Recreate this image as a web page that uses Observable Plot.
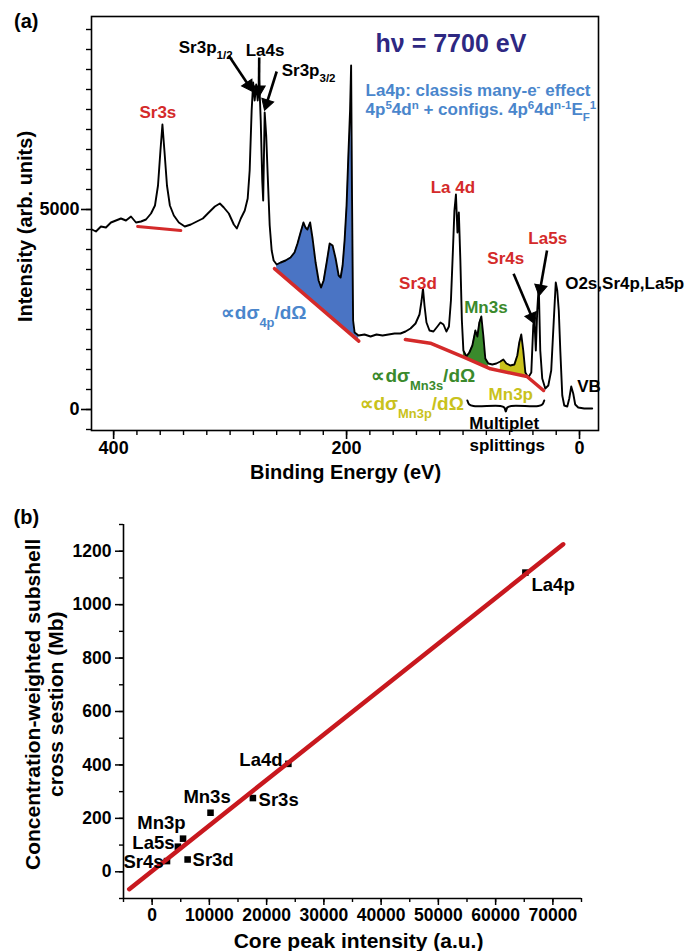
<!DOCTYPE html>
<html><head><meta charset="utf-8">
<script src="https://cdn.jsdelivr.net/npm/d3@7"></script>
<script src="https://cdn.jsdelivr.net/npm/@observablehq/plot@0.6"></script>
<style>
html,body{margin:0;padding:0;background:#fff;}
#chart{width:688px;height:951px;overflow:hidden;}
#chart svg{display:block;}
</style></head><body><div id="chart"></div>
<script>
const FONT = "Arial, 'Liberation Sans', Helvetica, sans-serif";

// ---------- Panel (a): XPS survey spectrum ----------
const bindingEnergy = [418.6,415.2,410.9,406.6,402.3,398.0,393.7,389.4,385.1,380.8,376.5,372.2,367.9,364.5,361.9,359.8,358.1,356.4,354.2,351.7,348.3,344.0,338.9,333.7,328.6,323.4,318.3,313.1,308.8,305.4,301.1,296.8,294.2,290.8,287.4,284.9,283.2,281.5,280.2,278.9,277.6,276.3,275.0,273.7,272.4,271.6,270.3,269.0,267.7,266.0,264.3,262.6,260.0,256.6,252.4,248.1,244.7,242.1,239.5,237.0,235.3,233.6,231.3,229.2,226.6,224.0,221.9,219.7,217.1,214.5,212.0,209.4,206.8,205.1,203.4,201.7,200.0,198.3,197.0,196.1,195.3,194.4,193.1,189.7,184.6,179.4,174.3,169.1,164.0,158.8,153.7,149.4,145.1,140.8,137.4,135.6,134.4,133.1,131.4,128.8,125.4,122.0,119.4,116.8,114.3,112.1,110.4,108.7,107.4,106.1,104.8,103.6,102.3,101.0,99.7,97.1,94.6,92.0,89.4,87.7,86.0,84.3,82.6,80.9,78.3,74.9,71.4,68.0,65.4,62.8,59.4,55.9,53.4,51.7,50.0,48.3,46.5,44.0,41.4,39.7,38.8,37.5,36.3,35.0,33.7,32.0,29.4,26.8,24.3,22.1,20.4,19.1,17.8,16.5,14.8,13.1,10.5,8.8,7.1,5.4,3.7,1.1,-4.0,-10.9];
const intensity = [4500,4450,4575,4550,4675,4725,4775,4725,4825,4675,4700,4750,4900,5100,5600,6475,7125,6475,5600,5100,4850,4675,4575,4625,4700,4775,4925,5075,5150,5050,4900,4625,4525,4775,4975,5275,5975,7475,8175,7725,8125,7725,8225,7225,5725,5225,7425,6850,5850,4600,3975,3725,3625,3675,3725,3800,3925,4150,4425,4675,4550,4500,4675,4275,3675,3225,3050,3225,3675,4150,4100,3775,3350,3300,3600,4225,5100,6475,7475,8600,5225,2225,1925,1850,1875,1825,1875,1850,1875,1900,1900,1950,2025,2150,2375,2725,3025,2600,2175,1975,1950,2075,2175,2125,1950,2075,2725,3975,4975,5375,4425,4925,3725,2225,1475,1325,1425,1600,1975,1825,2175,2325,1850,1275,1150,1125,1150,1200,1250,1150,1100,1125,1350,1675,1875,1475,925,800,925,2100,2275,1475,2475,3100,1475,775,525,600,975,2225,3175,2975,2475,1475,350,100,75,275,575,400,125,50,25,25];

// background (baseline) segments
const sr3sBaseBE = [379.4, 342.3], sr3sBaseI = [4575, 4475];
const la4pBaseBE = [261.9, 189.5], la4pBaseI = [3520, 1710];
const mnBaseBE = [149.5, 128.1, 99.4, 76.5, 45.1, 30.9], mnBaseI = [1750, 1658, 1308, 1018, 825, 475];
const la4pFillMax = 7200;
const mn3sRange = [76.5, 99.7], mn3pRange = [45.1, 70.8];

// axis ticks (a)
const xTicksA = [400, 200, 0];
const xMinorA = d3.range(0, 401, 20);
const yTicksA = [0, 5000];
const yMinorA = d3.range(-500, 9801, 500);

// annotation anchors (data units: binding energy, intensity)
const redLabels = [
  {t: "Sr3s", x: 362.0, y: 7425}, {t: "La 4d", x: 108.7, y: 5550}, {t: "Sr3d", x: 138.7, y: 3150},
  {t: "Sr4s", x: 63.3, y: 3775}, {t: "La5s", x: 27.3, y: 4275}];
const blackLabelsStart = [
  {t: "Sr3p_{1/2}", x: 344.1, y: 9050}, {t: "La4s", x: 286.6, y: 8975}, {t: "Sr3p_{3/2}", x: 255.7, y: 8475},
  {t: "O2s,Sr4p,La5p", x: 12.3, y: 3150}, {t: "VB", x: 2.0, y: 575}];
const blackLabelsMid = [{t: "Multiplet", x: 64.6, y: -350}, {t: "splittings", x: 62.0, y: -900}];
const peakArrows = [
  {x1: 301.2, y1: 8850, x2: 284.0, y2: 8100},
  {x1: 275.0, y1: 8800, x2: 275.2, y2: 8000},
  {x1: 260.0, y1: 8450, x2: 268.6, y2: 7650},
  {x1: 56.6, y1: 3393, x2: 40.8, y2: 2308},
  {x1: 27.9, y1: 3975, x2: 33.7, y2: 3018}];
const braceBE = [96.3, 94.6, 91.1, 68.0, 64.6, 63.3, 62.0, 58.6, 35.4, 32.0, 30.3];
const braceI = [225, 125, 88, 88, 50, -50, 50, 88, 88, 125, 225];

const spectrum = bindingEnergy.map((be, i) => ({be, I: intensity[i]}));
const pts = (xs, ys) => xs.map((x, i) => ({be: x, I: ys[i]}));
const la4pBase = d3.scaleLinear().domain(la4pBaseBE).range(la4pBaseI).clamp(true);
const mnBase = d3.scaleLinear().domain(mnBaseBE).range(mnBaseI).clamp(true);
const inRange = (lo, hi) => spectrum.filter(d => d.be >= lo && d.be <= hi);

const RED = "#d42a2a", BLUE = "#4a86cc", GREEN = "#3a8a2c", YELLOW = "#c9c21c";

// plot geometry (a) and arrow head orientation (screen space)
const A = {width: 688, height: 490, mt: 16, mb: 60, ml: 91, mr: 90, xd: [419, -16.3], yd: [-525, 9825]};
const kx = (A.width - A.ml - A.mr) / (A.xd[1] - A.xd[0]);
const ky = -(A.height - A.mt - A.mb) / (A.yd[1] - A.yd[0]);
const arrowHeads = peakArrows.map(a => {
  const dx = (a.x2 - a.x1) * kx, dy = (a.y2 - a.y1) * ky;
  return {x: a.x2, y: a.y2, angle: Math.atan2(dx, -dy) * 180 / Math.PI};
});

const plotA = Plot.plot({
  width: A.width, height: A.height,
  marginTop: A.mt, marginBottom: A.mb, marginLeft: A.ml, marginRight: A.mr,
  x: {domain: A.xd},
  y: {domain: A.yd},
  style: {fontFamily: FONT, fontWeight: "bold", color: "black", background: "white", overflow: "visible"},
  marks: [
    Plot.areaY(inRange(la4pBaseBE[1], la4pBaseBE[0]), {x: "be", y1: d => la4pBase(d.be), y2: d => Math.min(d.I, la4pFillMax), fill: "#4a74c4"}),
    Plot.areaY(inRange(...mn3sRange), {x: "be", y1: d => mnBase(d.be), y2: "I", fill: GREEN}),
    Plot.areaY(inRange(...mn3pRange), {x: "be", y1: d => mnBase(d.be), y2: "I", fill: YELLOW}),
    Plot.line(spectrum, {x: "be", y: "I", stroke: "black", strokeWidth: 1.9}),
    Plot.line(pts(sr3sBaseBE, sr3sBaseI), {x: "be", y: "I", stroke: RED, strokeWidth: 3}),
    Plot.line(pts(la4pBaseBE, la4pBaseI), {x: "be", y: "I", stroke: RED, strokeWidth: 3.5}),
    Plot.line(pts(mnBaseBE, mnBaseI), {x: "be", y: "I", stroke: RED, strokeWidth: 3.5}),
    Plot.frame({strokeWidth: 1.6}),
    Plot.axisY({ticks: yTicksA, tickSize: 10, tickPadding: 2, fontSize: 18, strokeWidth: 1.6, tickFormat: d3.format("d"), label: null}),
    Plot.axisY({ticks: yMinorA, tickSize: 5, strokeWidth: 1.4, tickFormat: () => "", label: null}),
    Plot.axisX({ticks: xTicksA, tickSize: 9, tickPadding: 2, fontSize: 18, strokeWidth: 1.6, tickFormat: d3.format("d"), label: null}),
    Plot.axisX({ticks: xMinorA, tickSize: 5, strokeWidth: 1.4, tickFormat: () => "", label: null}),
    Plot.link(peakArrows, {x1: "x1", y1: "y1", x2: "x2", y2: "y2", stroke: "black", strokeWidth: 2.6}),
    Plot.dot(arrowHeads, {x: "x", y: "y", symbol: "triangle", r: 4.6, rotate: "angle", fill: "black", stroke: "black", strokeWidth: 1}),
    Plot.line(pts(braceBE, braceI), {x: "be", y: "I", stroke: "black", strokeWidth: 2, curve: "catmull-rom"}),
    Plot.text(redLabels, {x: "x", y: "y", text: "t", fill: RED, fontSize: 17, textAnchor: "middle"}),
    Plot.text(blackLabelsStart, {x: "x", y: "y", text: "t", fill: "black", fontSize: 17, textAnchor: "start"}),
    Plot.text(blackLabelsMid, {x: "x", y: "y", text: "t", fill: "black", fontSize: 17, textAnchor: "middle"}),
    Plot.text([{t: "Mn3s", x: 80.4, y: 2550}], {x: "x", y: "y", text: "t", fill: GREEN, fontSize: 17, textAnchor: "middle"}),
    Plot.text([{t: "Mn3p", x: 59.0, y: 375}], {x: "x", y: "y", text: "t", fill: YELLOW, fontSize: 17, textAnchor: "middle"}),
    Plot.text([{t: "∝dσ_{4p}/dΩ", x: 308.0, y: 2425}], {x: "x", y: "y", text: "t", fill: BLUE, fontSize: 19, textAnchor: "start"}),
    Plot.text([{t: "∝dσ_{Mn3s}/dΩ", x: 178.6, y: 850}], {x: "x", y: "y", text: "t", fill: GREEN, fontSize: 19, textAnchor: "start"}),
    Plot.text([{t: "∝dσ_{Mn3p}/dΩ", x: 188.9, y: 150}], {x: "x", y: "y", text: "t", fill: YELLOW, fontSize: 19, textAnchor: "start"}),
    Plot.text([{t: "hν = 7700 eV", x: 110.4, y: 9150}], {x: "x", y: "y", text: "t", fill: "#2e2882", fontSize: 25, textAnchor: "middle"}),
    Plot.text([{t: "La4p: classis many-e^{-} effect", x: 183.7, y: 7975}, {t: "4p^{5}4d^{n} + configs. 4p^{6}4d^{n-1}E_{F}^{1}", x: 183.7, y: 7500}],
      {x: "x", y: "y", text: "t", fill: BLUE, fontSize: 17, textAnchor: "start"}),
    Plot.text([{t: "Intensity (arb. units)", x: 476.0, y: 4575}], {x: "x", y: "y", text: "t", fontSize: 20, rotate: -90, textAnchor: "middle"}),
    Plot.text([{t: "Binding Energy (eV)", x: 200.9, y: -1575}], {x: "x", y: "y", text: "t", fontSize: 20, textAnchor: "middle"}),
    Plot.text([{t: "(a)", x: 485.5, y: 9700}], {x: "x", y: "y", text: "t", fontSize: 20, textAnchor: "start"})
  ]
});

// ---------- Panel (b): cross section vs core peak intensity ----------
const peakNames = ["La4p", "La4d", "Sr3s", "Mn3s", "Mn3p", "La5s", "Sr4s", "Sr3d"];
const coreIntensity = [65200, 23800, 17600, 10200, 5400, 4500, 2600, 6200];
const crossSection = [1120, 404, 276, 221, 124, 94, 40, 46];
const fitIntensity = [-4000, 71800];
const fitCross = [-65, 1226];
const xTicksB = [0, 10000, 20000, 30000, 40000, 50000, 60000, 70000];
const xMinorB = d3.range(-5000, 75001, 5000);
const yTicksB = [0, 200, 400, 600, 800, 1000, 1200];
const yMinorB = d3.range(-100, 1301, 100);
const labelsStartB = [{t: "La4p", x: 66270, y: 1075}, {t: "Sr3s", x: 18590, y: 270}, {t: "Sr3d", x: 7060, y: 44}];
const labelsEndB = [{t: "La4d", x: 22780, y: 420}, {t: "La5s", x: 3910, y: 109}, {t: "Sr4s", x: 1990, y: 38}];
const labelsMidB = [{t: "Mn3s", x: 9590, y: 278}, {t: "Mn3p", x: 1640, y: 181}];

const points = peakNames.map((n, i) => ({n, x: coreIntensity[i], y: crossSection[i]}));
const fit = fitIntensity.map((x, i) => ({x, y: fitCross[i]}));

const plotB = Plot.plot({
  width: 688, height: 461,
  marginTop: 34, marginBottom: 53, marginLeft: 123, marginRight: 107,
  x: {domain: [-5000, 75000]},
  y: {domain: [-100, 1300]},
  style: {fontFamily: FONT, fontWeight: "bold", color: "black", background: "white", overflow: "visible"},
  marks: [
    Plot.ruleX([-5000], {strokeWidth: 1.6}),
    Plot.ruleY([-100], {strokeWidth: 1.6}),
    Plot.axisY({ticks: yTicksB, tickSize: 8, tickPadding: 4, fontSize: 17.5, strokeWidth: 1.5, tickFormat: d3.format("d"), label: null}),
    Plot.axisY({ticks: yMinorB, tickSize: 4, strokeWidth: 1.4, tickFormat: () => "", label: null}),
    Plot.axisX({ticks: xTicksB, tickSize: 7, tickPadding: 3, fontSize: 17.5, strokeWidth: 1.5, tickFormat: d3.format("d"), label: null}),
    Plot.axisX({ticks: xMinorB, tickSize: 4, strokeWidth: 1.4, tickFormat: () => "", label: null}),
    Plot.dot(points, {x: "x", y: "y", symbol: "square", r: 3.7, fill: "black"}),
    Plot.line(fit, {x: "x", y: "y", stroke: "#c8181e", strokeWidth: 4.5}),
    Plot.text(labelsStartB, {x: "x", y: "y", text: "t", fontSize: 18.5, textAnchor: "start"}),
    Plot.text(labelsEndB, {x: "x", y: "y", text: "t", fontSize: 18.5, textAnchor: "end"}),
    Plot.text(labelsMidB, {x: "x", y: "y", text: "t", fontSize: 18.5, textAnchor: "middle"}),
    Plot.text([{t: "Concentration-weighted subshell", x: -20716, y: 627}, {t: "cross sestion (Mb)", x: -16700, y: 627}],
      {x: "x", y: "y", text: "t", fontSize: 21, rotate: -90, textAnchor: "middle"}),
    Plot.text([{t: "Core peak intensity (a.u.)", x: 36050, y: -260}], {x: "x", y: "y", text: "t", fontSize: 21, textAnchor: "middle"}),
    Plot.text([{t: "(b)", x: -24210, y: 1326}], {x: "x", y: "y", text: "t", fontSize: 20, textAnchor: "start"})
  ]
});

// turn _{..} and ^{..} into sub/superscript tspans
function richify(svg) {
  d3.select(svg).selectAll("text").each(function() {
    const t = this.textContent;
    if (!/[_^]\{/.test(t)) return;
    const sel = d3.select(this);
    sel.text(null);
    const re = /([_^])\{([^}]*)\}|([^_^]+)/g;
    let m;
    while ((m = re.exec(t))) {
      if (m[3]) sel.append("tspan").text(m[3]);
      else sel.append("tspan").attr("baseline-shift", m[1] === "_" ? "sub" : "super").attr("font-size", "68%").text(m[2]);
    }
  });
}
richify(plotA); richify(plotB);
document.getElementById("chart").append(plotA, plotB);
</script></body></html>
